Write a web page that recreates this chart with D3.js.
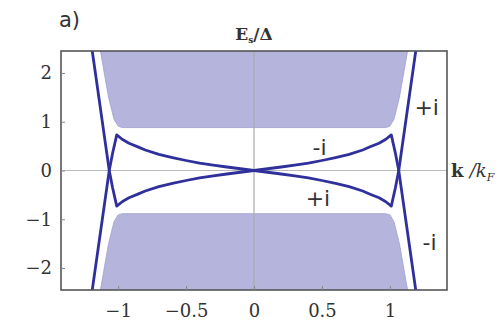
<!DOCTYPE html>
<html>
<head>
<meta charset="utf-8">
<script src="https://cdn.jsdelivr.net/npm/d3@7"></script>
<style>
  body { margin: 0; background: #fff; }
  text { fill: #333; }
</style>
</head>
<body>
<div id="chart"></div>
<script>
// tick values
const kTicks = [-1, -0.5, 0, 0.5, 1];
const eTicks = [-2, -1, 0, 1, 2];

// "-i" branch (k, E/Δ)
const minusK = [-1.205, -1.19, -1.065, -1.04, -1.01, -0.97, -0.92, -0.85, -0.8, -0.7, -0.6, -0.5, -0.4, -0.3, -0.2, -0.1, 0,
  0.1, 0.2, 0.3, 0.4, 0.5, 0.6, 0.7, 0.8, 0.85, 0.92, 0.97, 1.01, 1.04, 1.065, 1.19, 1.205];
const minusE = [2.6, 2.45, 0, -0.36, -0.73, -0.64, -0.56, -0.48, -0.42, -0.33, -0.265, -0.205, -0.15, -0.11, -0.072, -0.036, 0,
  0.036, 0.072, 0.11, 0.15, 0.205, 0.265, 0.33, 0.42, 0.48, 0.56, 0.64, 0.73, 0.36, 0, -2.45, -2.6];

// "+i" branch
const plusK = [-1.205, -1.19, -1.065, -1.04, -1.01, -0.97, -0.92, -0.85, -0.8, -0.7, -0.6, -0.5, -0.4, -0.3, -0.2, -0.1, 0,
  0.1, 0.2, 0.3, 0.4, 0.5, 0.6, 0.7, 0.8, 0.85, 0.92, 0.97, 1.01, 1.04, 1.065, 1.19, 1.205];
const plusE = [-2.6, -2.45, 0, 0.36, 0.73, 0.64, 0.56, 0.48, 0.42, 0.33, 0.265, 0.205, 0.15, 0.11, 0.072, 0.036, 0,
  -0.036, -0.072, -0.11, -0.15, -0.205, -0.265, -0.33, -0.42, -0.48, -0.56, -0.64, -0.73, -0.36, 0, 2.45, 2.6];

// continuum edges (shaded bands)
const bandK = [-1.14, -1.13, -1.07, -1.03, -1.0, -0.97, 0.97, 1.0, 1.03, 1.07, 1.13, 1.14];
const bandUpperE = [2.6, 2.45, 1.5, 1.05, 0.91, 0.88, 0.88, 0.91, 1.05, 1.5, 2.45, 2.6];
const bandLowerE = [-2.6, -2.45, -1.5, -1.05, -0.91, -0.885, -0.885, -0.91, -1.05, -1.5, -2.45, -2.6];

// labels on the branches
const branchLabels = [
  { text: "-i", k: 0.43, e: 0.32 },
  { text: "+i", k: 0.38, e: -0.73 },
  { text: "+i", k: 1.18, e: 1.14 },
  { text: "-i", k: 1.24, e: -1.63 }
];

const W = 502, H = 322;
const margin = { top: 51, right: 55, bottom: 32, left: 61 };
const innerW = W - margin.left - margin.right;
const innerH = H - margin.top - margin.bottom;

const svg = d3.select("#chart").append("svg")
  .attr("width", W)
  .attr("height", H);

const x = d3.scaleLinear().domain([-1.42, 1.42]).range([0, innerW]);
const y = d3.scaleLinear().domain([-2.45, 2.45]).range([innerH, 0]);

const g = svg.append("g")
  .attr("transform", "translate(" + margin.left + "," + margin.top + ")");

svg.append("defs").append("clipPath")
  .attr("id", "plot-clip")
  .append("rect")
  .attr("width", innerW)
  .attr("height", innerH);

const plot = g.append("g").attr("clip-path", "url(#plot-clip)");

const line = d3.line()
  .x(d => x(d[0]))
  .y(d => y(d[1]));

/** shaded bands */
[bandUpperE, bandLowerE].forEach(arr => {
  plot.append("path")
    .attr("d", line(bandK.map((k, i) => [k, arr[i]])) + "Z")
    .attr("fill", "#b4b4dc")
    .attr("stroke", "#9e9ed0")
    .attr("stroke-width", 0.8);
});

/** zero lines */
plot.append("line")
  .attr("x1", 0).attr("x2", innerW)
  .attr("y1", y(0)).attr("y2", y(0))
  .attr("stroke", "#bbb").attr("stroke-width", 1.2);
plot.append("line")
  .attr("x1", x(0)).attr("x2", x(0))
  .attr("y1", 0).attr("y2", innerH)
  .attr("stroke", "#aaa").attr("stroke-width", 1.2);

/** bound state branches */
[[minusK, minusE], [plusK, plusE]].forEach(([ks, es]) => {
  plot.append("path")
    .attr("d", line(ks.map((k, i) => [k, es[i]])))
    .attr("fill", "none")
    .attr("stroke", "#30309c")
    .attr("stroke-width", 2.8)
    .attr("stroke-linejoin", "round");
});

/** frame + inner ticks */
g.append("rect")
  .attr("width", innerW)
  .attr("height", innerH)
  .attr("fill", "none")
  .attr("stroke", "#555")
  .attr("stroke-width", 1.6);

g.append("g")
  .attr("transform", "translate(0," + innerH + ")")
  .call(d3.axisBottom(x).tickValues(kTicks).tickSize(-4).tickPadding(14).tickFormat(d3.format("")))
  .call(a => a.select(".domain").remove())
  .call(a => a.selectAll("line").attr("stroke", "#888"))
  .call(a => a.selectAll("text")
    .attr("font-family", "DejaVu Serif")
    .attr("font-size", 18)
    .attr("fill", "#333"));

g.append("g")
  .call(d3.axisLeft(y).tickValues(eTicks).tickSize(-4).tickPadding(9).tickFormat(d3.format("")))
  .call(a => a.select(".domain").remove())
  .call(a => a.selectAll("line").attr("stroke", "#888"))
  .call(a => a.selectAll("text")
    .attr("font-family", "DejaVu Serif")
    .attr("font-size", 18)
    .attr("fill", "#333"));

/** branch labels */
g.selectAll("text.branch")
  .data(branchLabels)
  .enter()
  .append("text")
  .attr("class", "branch")
  .attr("x", d => x(d.k))
  .attr("y", d => y(d.e))
  .attr("font-family", "DejaVu Sans")
  .attr("font-size", 22)
  .attr("fill", "#222")
  .text(d => d.text);

/** titles */
svg.append("text")
  .attr("x", 59)
  .attr("y", 27)
  .attr("font-family", "DejaVu Sans")
  .attr("font-size", 21)
  .text("a)");

const eTitle = svg.append("text")
  .attr("x", margin.left + x(0))
  .attr("y", 40)
  .attr("text-anchor", "middle")
  .attr("font-family", "DejaVu Serif")
  .attr("font-weight", "bold")
  .attr("font-size", 17);
eTitle.append("tspan").text("E");
eTitle.append("tspan").attr("font-size", 9).attr("dy", 3).text("s");
eTitle.append("tspan").attr("dy", -3).text("/Δ");

const kTitle = svg.append("text")
  .attr("x", margin.left + innerW + 4)
  .attr("y", margin.top + y(0) + 6)
  .attr("font-family", "DejaVu Serif")
  .attr("font-size", 18);
kTitle.append("tspan").attr("font-weight", "bold").text("k ");
kTitle.append("tspan").attr("font-style", "italic").text("/k");
kTitle.append("tspan").attr("font-style", "italic").attr("font-size", 11).attr("dy", 4).text("F");
</script>
</body>
</html>
